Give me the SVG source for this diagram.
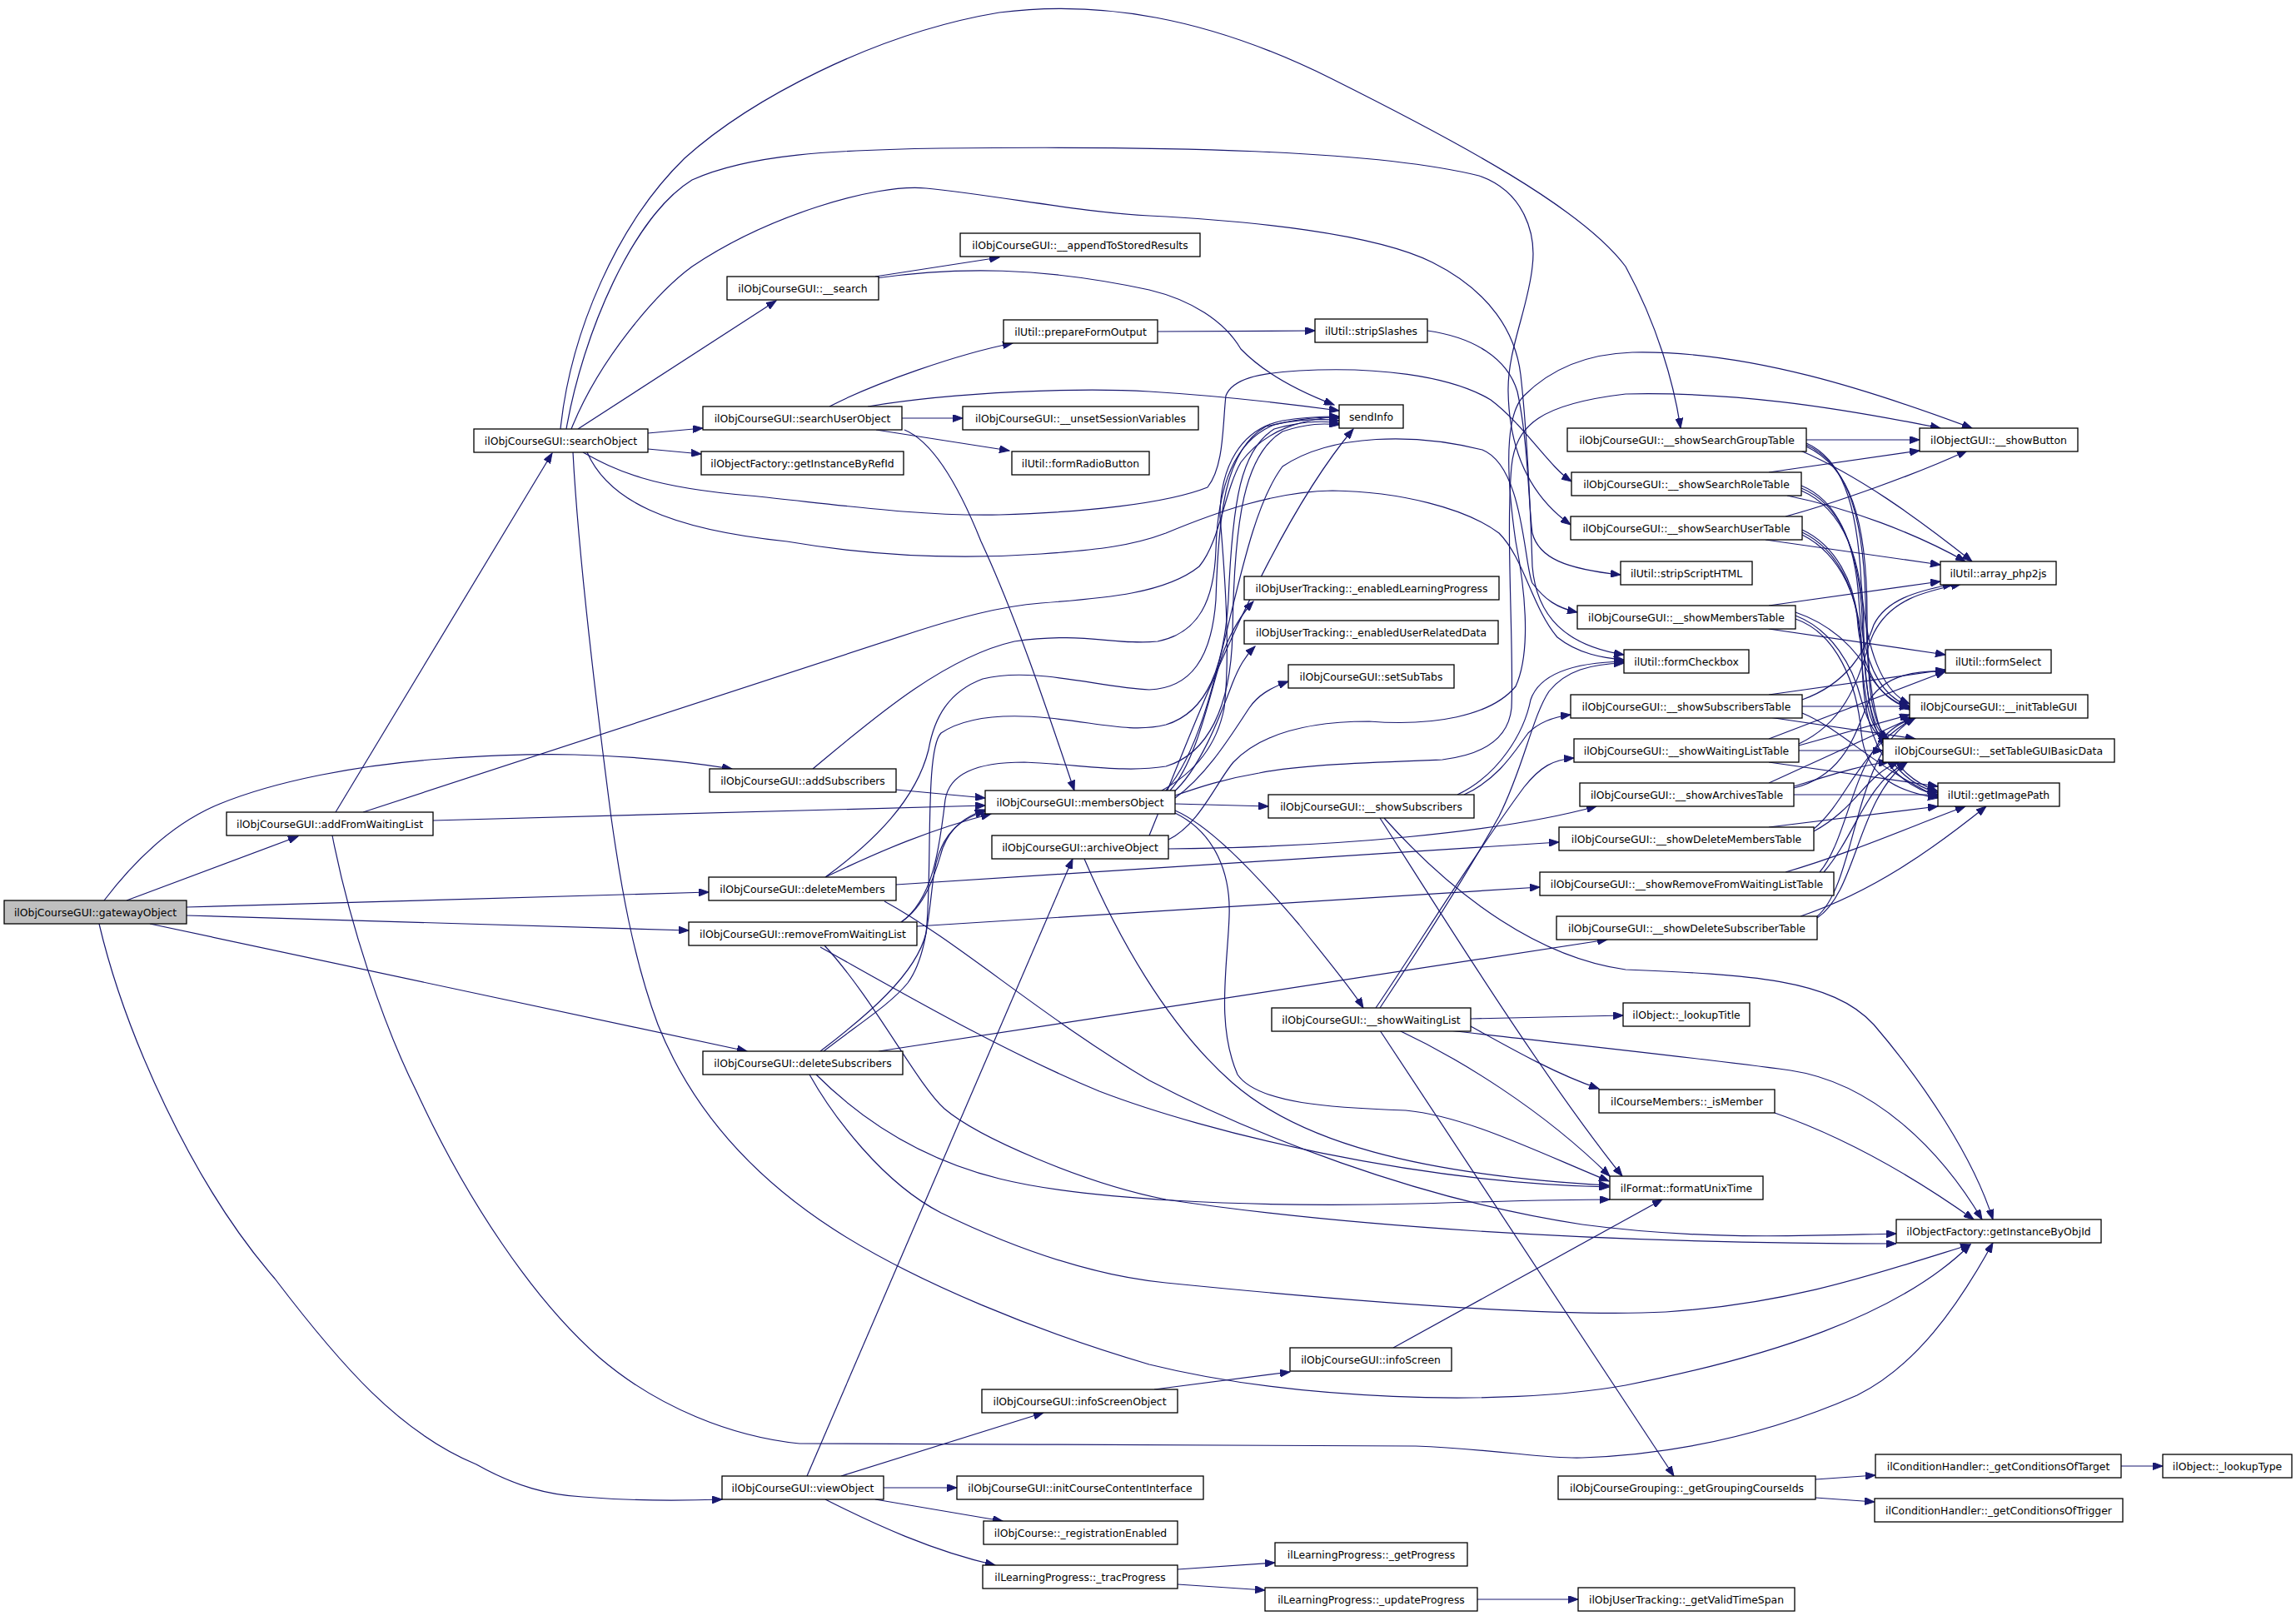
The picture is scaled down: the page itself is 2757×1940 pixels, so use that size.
<svg xmlns="http://www.w3.org/2000/svg" width="2757" height="1940" viewBox="0 0 2757 1940">
<defs>
<marker id="a" markerUnits="userSpaceOnUse" markerWidth="13" markerHeight="9" refX="12" refY="4.5" orient="auto"><path d="M0,0 L12,4.5 L0,9 z" fill="#191970" stroke="#191970" stroke-width="1"/></marker>
</defs>
<style>
.n rect{fill:#fff;stroke:#000;stroke-width:1.3}
.n text{font-family:"DejaVu Sans","Liberation Sans",sans-serif;font-size:12.4px;text-anchor:middle;fill:#000}
.e path{fill:none;stroke:#191970;stroke-width:1.2;marker-end:url(#a)}
</style>
<rect width="2757" height="1940" fill="#fff"/>
<g class="e" id="edges">
<path d="M152,1081 L358,1004"/>
<path d="M125,1081 C170,1022 215,985 264,965 C330,938 430,918 530,911 C600,906 650,905 690,906 C760,908 830,915 879,923"/>
<path d="M224,1089 L851,1071"/>
<path d="M224,1099 L827,1117"/>
<path d="M180,1109 L897,1262"/>
<path d="M119,1109 C150,1240 230,1420 330,1535 C410,1640 480,1720 572,1758 C620,1785 660,1795 700,1797 C760,1802 810,1802 867,1800"/>
<path d="M403,975 L663,544"/>
<path d="M520,985 L1183,967"/>
<path d="M436,975 L1100,758 C1150,742 1200,728 1250,724 C1330,718 1400,712 1440,680 C1465,650 1470,590 1490,555 C1520,515 1565,503 1608,500"/>
<path d="M399,1003 C420,1110 460,1230 500,1310 C560,1440 640,1560 720,1630 C790,1690 880,1725 960,1733 C1200,1735 1500,1733 1700,1736 C1800,1740 1860,1752 1900,1750 C2040,1745 2150,1710 2230,1675 C2300,1640 2350,1570 2393,1492"/>
<path d="M694,515 L932,361"/>
<path d="M778,520 L844,514"/>
<path d="M778,539 L842,545"/>
<path d="M673,515 C685,400 740,270 822,190 C900,120 1050,40 1200,15 C1320,0 1450,20 1600,95 C1750,170 1900,250 1952,320 C1990,390 2010,460 2018,514"/>
<path d="M680,515 C700,400 760,260 831,216 C900,185 1000,180 1130,178 C1400,175 1650,180 1776,211 C1830,230 1845,280 1840,320 C1835,370 1810,420 1811,470 C1812,530 1830,590 1886,630"/>
<path d="M686,515 C720,430 790,350 831,320 C920,260 1050,220 1112,226 C1200,235 1300,255 1380,259 C1500,265 1650,280 1720,315 C1790,350 1820,400 1826,450 C1835,530 1838,620 1840,680 C1845,740 1880,775 1950,786"/>
<path d="M700,543 C740,565 780,585 900,595 C1000,605 1100,620 1200,618 C1300,615 1400,605 1450,585 C1470,560 1468,510 1472,475 C1480,455 1510,448 1560,445 C1650,440 1740,450 1790,480 C1830,510 1860,560 1887,578"/>
<path d="M705,543 C730,600 800,635 945,650 C1050,668 1150,672 1250,665 C1320,660 1360,655 1400,640 C1460,615 1530,590 1600,589 C1680,590 1760,610 1800,640 C1830,670 1840,730 1870,765 C1895,785 1925,790 1950,792"/>
<path d="M688,543 C692,620 705,760 734,982 C745,1060 760,1150 790,1230 C830,1330 900,1410 1000,1475 C1100,1540 1250,1600 1380,1638 C1550,1680 1800,1690 1952,1663 C2120,1630 2280,1580 2366,1494"/>
<path d="M1051,332 L1200,309"/>
<path d="M1051,334 C1150,320 1250,320 1380,348 C1430,360 1470,385 1490,419 C1520,450 1560,470 1602,486"/>
<path d="M996,488 C1050,460 1150,425 1216,412"/>
<path d="M1083,502 L1156,502"/>
<path d="M1052,516 L1212,541"/>
<path d="M1042,488 C1150,470 1300,465 1380,470 C1460,475 1550,485 1608,493"/>
<path d="M1086,516 C1120,530 1150,580 1178,650 C1220,740 1260,860 1290,949"/>
<path d="M1390,398 L1579,397"/>
<path d="M1714,397 C1770,405 1810,430 1822,470 C1835,530 1835,600 1840,640 C1848,670 1880,683 1946,690"/>
<path d="M1395,949 C1430,930 1460,900 1470,850 C1478,780 1470,680 1465,620 C1465,560 1490,515 1540,505 C1570,500 1590,500 1608,500"/>
<path d="M976,923 C1040,870 1130,790 1218,770 C1300,758 1340,775 1390,770 C1440,760 1458,720 1460,660 C1462,590 1480,530 1530,510 C1560,502 1590,500 1608,502"/>
<path d="M991,1053 C1050,1010 1100,960 1115,900 C1122,860 1140,830 1180,815 C1240,800 1320,825 1380,828 C1430,826 1455,790 1460,720 C1463,620 1470,540 1520,512 C1560,502 1590,503 1608,505"/>
<path d="M985,1262 C1040,1220 1100,1170 1112,1120 C1120,1050 1110,900 1130,880 C1160,860 1210,857 1260,862 C1320,868 1360,880 1400,870 C1450,855 1470,800 1475,720 C1480,600 1490,540 1530,515 C1565,505 1590,505 1608,508"/>
<path d="M1082,1107 C1120,1080 1128,1020 1135,960 C1140,930 1170,915 1230,915 C1300,918 1350,928 1400,920 C1450,905 1478,850 1480,760 C1482,620 1495,545 1540,518 C1570,508 1590,508 1608,510"/>
<path d="M991,1053 C1060,1020 1120,995 1190,977"/>
<path d="M1082,1107 C1115,1085 1125,1040 1132,1018 C1142,992 1160,980 1183,972"/>
<path d="M989,1262 C1030,1230 1070,1205 1090,1180 C1112,1150 1115,1100 1120,1060 C1125,1010 1145,985 1183,974"/>
<path d="M1076,948 L1183,958"/>
<path d="M1405,949 C1440,910 1455,820 1470,780 C1480,755 1490,738 1505,722"/>
<path d="M1408,952 C1440,925 1465,860 1480,820 C1488,800 1495,788 1507,776"/>
<path d="M1411,958 C1450,930 1480,880 1500,850 C1510,835 1525,826 1547,818"/>
<path d="M1411,965 L1523,968"/>
<path d="M1411,973 C1450,990 1500,1040 1560,1110 C1600,1160 1625,1190 1637,1210"/>
<path d="M1411,976 C1460,1000 1478,1050 1476,1100 C1474,1160 1460,1230 1486,1290 C1510,1325 1600,1330 1688,1333 C1760,1340 1840,1380 1932,1418"/>
<path d="M1411,955 C1440,945 1470,935 1512,928 C1560,918 1650,915 1732,912 C1790,905 1812,880 1815,850 C1818,780 1808,640 1815,560 C1820,510 1850,485 1952,473 C2080,470 2200,488 2330,514"/>
<path d="M1400,949 C1470,870 1480,640 1540,560 C1600,520 1700,520 1780,540 C1830,560 1830,680 1840,700 C1855,720 1870,730 1894,735"/>
<path d="M1403,1008 C1440,990 1460,940 1481,915 C1510,885 1560,866 1644,866 C1720,872 1790,860 1820,824 C1840,780 1830,700 1820,650 C1810,580 1805,500 1830,475 C1860,445 1900,425 1960,423 C2100,420 2250,470 2368,514"/>
<path d="M1380,1003 C1430,880 1520,640 1625,515"/>
<path d="M1403,1019 C1600,1017 1800,1000 1917,968"/>
<path d="M1302,1031 C1340,1120 1400,1230 1480,1300 C1560,1370 1700,1410 1932,1423"/>
<path d="M1076,1062 L1872,1011"/>
<path d="M1101,1112 L1849,1065"/>
<path d="M1055,1262 L1930,1128"/>
<path d="M1062,1082 C1150,1130 1250,1220 1380,1297 C1500,1360 1700,1440 1900,1470 C2050,1490 2180,1483 2277,1481"/>
<path d="M985,1137 C1080,1190 1200,1260 1320,1310 C1450,1360 1700,1420 1932,1425"/>
<path d="M990,1135 C1050,1200 1100,1300 1134,1331 C1174,1365 1300,1420 1400,1440 C1600,1470 1900,1493 2277,1493"/>
<path d="M972,1290 C1000,1340 1060,1420 1130,1456 C1200,1490 1300,1530 1400,1540 C1600,1560 1864,1582 2000,1575 C2150,1565 2250,1530 2366,1494"/>
<path d="M980,1290 C1030,1340 1100,1390 1200,1415 C1300,1440 1500,1450 1700,1445 C1800,1442 1880,1440 1933,1440"/>
<path d="M1758,954 C1800,935 1820,900 1835,880 C1850,865 1870,860 1886,858"/>
<path d="M1750,954 C1800,930 1830,880 1838,840 C1850,805 1900,795 1950,794"/>
<path d="M1657,982 C1720,1080 1850,1290 1948,1412"/>
<path d="M1662,982 C1750,1080 1850,1150 1952,1164 C2100,1170 2200,1175 2250,1230 C2310,1300 2370,1390 2393,1464"/>
<path d="M1657,1210 C1690,1160 1750,1070 1800,980 C1830,920 1840,860 1860,830 C1880,805 1910,797 1950,796"/>
<path d="M1652,1210 C1700,1140 1760,1040 1830,945 C1850,920 1865,912 1890,910"/>
<path d="M1766,1223 L1949,1219"/>
<path d="M1657,1237 L2010,1772"/>
<path d="M1680,1237 C1750,1270 1850,1330 1933,1412"/>
<path d="M1740,1237 C1850,1250 2000,1265 2150,1285 C2250,1300 2330,1380 2380,1464"/>
<path d="M1766,1232 C1820,1262 1870,1290 1920,1307"/>
<path d="M2131,1336 C2200,1360 2280,1400 2370,1464"/>
<path d="M1673,1618 L1996,1440"/>
<path d="M969,1772 L1288,1031"/>
<path d="M1010,1772 L1253,1696"/>
<path d="M1061,1786 L1149,1786"/>
<path d="M1051,1800 L1204,1826"/>
<path d="M991,1800 C1050,1830 1120,1862 1195,1879"/>
<path d="M1386,1668 L1549,1647"/>
<path d="M1414,1884 L1531,1876"/>
<path d="M1414,1902 L1519,1909"/>
<path d="M1774,1920 L1895,1920"/>
<path d="M2180,1776 L2252,1771"/>
<path d="M2180,1798 L2251,1803"/>
<path d="M2547,1760 L2597,1760"/>
<path d="M2169,528 L2305,528"/>
<path d="M2162,541 C2230,570 2300,620 2368,674"/>
<path d="M2169,532 C2210,550 2230,600 2235,700 C2240,780 2260,830 2293,845"/>
<path d="M2169,534 C2215,555 2237,610 2240,720 C2243,820 2245,870 2268,887"/>
<path d="M2169,536 C2220,560 2242,620 2242,740 C2242,880 2270,930 2327,950"/>
<path d="M2124,567 L2305,541"/>
<path d="M2146,595 C2220,610 2300,640 2360,674"/>
<path d="M2163,583 C2205,600 2228,650 2232,720 C2236,790 2255,835 2293,848"/>
<path d="M2163,586 C2210,605 2232,660 2236,740 C2240,830 2245,875 2268,889"/>
<path d="M2163,589 C2212,610 2238,670 2238,760 C2238,880 2268,935 2327,952"/>
<path d="M2144,620 C2200,605 2300,570 2362,541"/>
<path d="M2120,648 L2330,678"/>
<path d="M2164,636 C2205,655 2226,700 2230,740 C2234,800 2255,840 2293,850"/>
<path d="M2164,639 C2208,660 2230,710 2234,770 C2238,840 2245,880 2268,891"/>
<path d="M2164,642 C2210,665 2236,720 2236,790 C2236,890 2268,940 2327,955"/>
<path d="M2124,727 L2330,698"/>
<path d="M2124,755 L2336,786"/>
<path d="M2156,735 C2200,750 2230,780 2245,810 C2260,835 2275,842 2293,852"/>
<path d="M2156,739 C2200,756 2225,800 2235,840 C2245,875 2255,885 2268,893"/>
<path d="M2156,743 C2205,760 2230,820 2235,880 C2240,930 2275,950 2327,958"/>
<path d="M2124,834 L2336,804"/>
<path d="M2164,840 C2220,820 2240,780 2250,750 C2265,720 2300,710 2345,701"/>
<path d="M2164,848 L2293,848"/>
<path d="M2124,861 L2300,887"/>
<path d="M2164,856 C2210,875 2250,920 2327,957"/>
<path d="M2160,893 C2230,860 2235,790 2250,760 C2270,720 2310,710 2355,701"/>
<path d="M2124,887 L2336,806"/>
<path d="M2160,895 L2293,858"/>
<path d="M2160,901 L2261,901"/>
<path d="M2124,915 L2327,944"/>
<path d="M2124,940 L2297,861"/>
<path d="M2154,946 C2220,930 2230,870 2245,840 C2265,810 2300,805 2336,806"/>
<path d="M2154,944 C2200,930 2240,917 2268,915"/>
<path d="M2154,954 L2327,954"/>
<path d="M2124,993 L2327,968"/>
<path d="M2178,995 C2220,960 2230,900 2300,861"/>
<path d="M2178,998 C2230,970 2240,930 2280,915"/>
<path d="M2144,1047 C2220,1025 2300,990 2360,968"/>
<path d="M2185,1047 C2225,1000 2225,880 2300,862"/>
<path d="M2190,1047 C2230,1000 2240,940 2290,915"/>
<path d="M2162,1100 C2250,1070 2320,1020 2385,968"/>
<path d="M2182,1100 C2230,1060 2225,900 2300,862"/>
<path d="M2182,1102 C2230,1070 2230,960 2290,915"/>
</g>
<g class="n" id="n_gw"><rect x="5" y="1081" width="219" height="28" style="fill:#bfbfbf"/><text x="114.5" y="1099.5">ilObjCourseGUI::gatewayObject</text></g>
<g class="n" id="n_afw"><rect x="272" y="975" width="248" height="28"/><text x="396" y="993.5">ilObjCourseGUI::addFromWaitingList</text></g>
<g class="n" id="n_so"><rect x="569" y="515" width="209" height="28"/><text x="673.5" y="533.5">ilObjCourseGUI::searchObject</text></g>
<g class="n" id="n_s"><rect x="873" y="332" width="182" height="28"/><text x="964" y="350.5">ilObjCourseGUI::__search</text></g>
<g class="n" id="n_app"><rect x="1153" y="280" width="288" height="28"/><text x="1297" y="298.5">ilObjCourseGUI::__appendToStoredResults</text></g>
<g class="n" id="n_pfo"><rect x="1205" y="384" width="185" height="28"/><text x="1297.5" y="402.5">ilUtil::prepareFormOutput</text></g>
<g class="n" id="n_suo"><rect x="844" y="488" width="239" height="28"/><text x="963.5" y="506.5">ilObjCourseGUI::searchUserObject</text></g>
<g class="n" id="n_uns"><rect x="1156" y="488" width="283" height="28"/><text x="1297.5" y="506.5">ilObjCourseGUI::__unsetSessionVariables</text></g>
<g class="n" id="n_girf"><rect x="842" y="542" width="243" height="28"/><text x="963.5" y="560.5">ilObjectFactory::getInstanceByRefId</text></g>
<g class="n" id="n_frb"><rect x="1215" y="542" width="165" height="28"/><text x="1297.5" y="560.5">ilUtil::formRadioButton</text></g>
<g class="n" id="n_ss"><rect x="1579" y="383" width="135" height="28"/><text x="1646.5" y="401.5">ilUtil::stripSlashes</text></g>
<g class="n" id="n_si"><rect x="1608" y="486" width="77" height="28"/><text x="1646.5" y="504.5">sendInfo</text></g>
<g class="n" id="n_ssgt"><rect x="1882" y="514" width="287" height="28"/><text x="2025.5" y="532.5">ilObjCourseGUI::__showSearchGroupTable</text></g>
<g class="n" id="n_ssrt"><rect x="1887" y="567" width="276" height="28"/><text x="2025" y="585.5">ilObjCourseGUI::__showSearchRoleTable</text></g>
<g class="n" id="n_ssut"><rect x="1886" y="620" width="278" height="28"/><text x="2025" y="638.5">ilObjCourseGUI::__showSearchUserTable</text></g>
<g class="n" id="n_sb"><rect x="2305" y="514" width="190" height="28"/><text x="2400" y="532.5">ilObjectGUI::__showButton</text></g>
<g class="n" id="n_ssh"><rect x="1946" y="674" width="158" height="28"/><text x="2025" y="692.5">ilUtil::stripScriptHTML</text></g>
<g class="n" id="n_ap"><rect x="2330" y="674" width="139" height="28"/><text x="2399.5" y="692.5">ilUtil::array_php2js</text></g>
<g class="n" id="n_elp"><rect x="1494" y="692" width="306" height="28"/><text x="1647" y="710.5">ilObjUserTracking::_enabledLearningProgress</text></g>
<g class="n" id="n_smt"><rect x="1894" y="727" width="262" height="28"/><text x="2025" y="745.5">ilObjCourseGUI::__showMembersTable</text></g>
<g class="n" id="n_eur"><rect x="1494" y="745" width="305" height="28"/><text x="1646.5" y="763.5">ilObjUserTracking::_enabledUserRelatedData</text></g>
<g class="n" id="n_fc"><rect x="1950" y="780" width="150" height="28"/><text x="2025" y="798.5">ilUtil::formCheckbox</text></g>
<g class="n" id="n_fs"><rect x="2336" y="780" width="127" height="28"/><text x="2399.5" y="798.5">ilUtil::formSelect</text></g>
<g class="n" id="n_sst"><rect x="1547" y="798" width="199" height="28"/><text x="1646.5" y="816.5">ilObjCourseGUI::setSubTabs</text></g>
<g class="n" id="n_sstb"><rect x="1886" y="834" width="278" height="28"/><text x="2025" y="852.5">ilObjCourseGUI::__showSubscribersTable</text></g>
<g class="n" id="n_itg"><rect x="2293" y="834" width="214" height="28"/><text x="2400" y="852.5">ilObjCourseGUI::__initTableGUI</text></g>
<g class="n" id="n_swlt"><rect x="1890" y="887" width="270" height="28"/><text x="2025" y="905.5">ilObjCourseGUI::__showWaitingListTable</text></g>
<g class="n" id="n_stg"><rect x="2261" y="887" width="278" height="28"/><text x="2400" y="905.5">ilObjCourseGUI::__setTableGUIBasicData</text></g>
<g class="n" id="n_as"><rect x="852" y="923" width="224" height="28"/><text x="964" y="941.5">ilObjCourseGUI::addSubscribers</text></g>
<g class="n" id="n_sat"><rect x="1897" y="940" width="257" height="28"/><text x="2025.5" y="958.5">ilObjCourseGUI::__showArchivesTable</text></g>
<g class="n" id="n_gip"><rect x="2327" y="940" width="146" height="28"/><text x="2400" y="958.5">ilUtil::getImagePath</text></g>
<g class="n" id="n_mo"><rect x="1183" y="949" width="228" height="28"/><text x="1297" y="967.5">ilObjCourseGUI::membersObject</text></g>
<g class="n" id="n_ssub"><rect x="1523" y="954" width="247" height="28"/><text x="1646.5" y="972.5">ilObjCourseGUI::__showSubscribers</text></g>
<g class="n" id="n_sdmt"><rect x="1872" y="993" width="306" height="28"/><text x="2025" y="1011.5">ilObjCourseGUI::__showDeleteMembersTable</text></g>
<g class="n" id="n_ao"><rect x="1191" y="1003" width="212" height="28"/><text x="1297" y="1021.5">ilObjCourseGUI::archiveObject</text></g>
<g class="n" id="n_srwt"><rect x="1849" y="1047" width="353" height="28"/><text x="2025.5" y="1065.5">ilObjCourseGUI::__showRemoveFromWaitingListTable</text></g>
<g class="n" id="n_dm"><rect x="851" y="1053" width="225" height="28"/><text x="963.5" y="1071.5">ilObjCourseGUI::deleteMembers</text></g>
<g class="n" id="n_sdst"><rect x="1869" y="1100" width="313" height="28"/><text x="2025.5" y="1118.5">ilObjCourseGUI::__showDeleteSubscriberTable</text></g>
<g class="n" id="n_rfw"><rect x="827" y="1107" width="274" height="28"/><text x="964" y="1125.5">ilObjCourseGUI::removeFromWaitingList</text></g>
<g class="n" id="n_lt"><rect x="1949" y="1204" width="152" height="28"/><text x="2025" y="1222.5">ilObject::_lookupTitle</text></g>
<g class="n" id="n_swl"><rect x="1527" y="1210" width="239" height="28"/><text x="1646.5" y="1228.5">ilObjCourseGUI::__showWaitingList</text></g>
<g class="n" id="n_ds"><rect x="844" y="1262" width="240" height="28"/><text x="964" y="1280.5">ilObjCourseGUI::deleteSubscribers</text></g>
<g class="n" id="n_ism"><rect x="1920" y="1308" width="211" height="28"/><text x="2025.5" y="1326.5">ilCourseMembers::_isMember</text></g>
<g class="n" id="n_fut"><rect x="1933" y="1412" width="184" height="28"/><text x="2025" y="1430.5">ilFormat::formatUnixTime</text></g>
<g class="n" id="n_gio"><rect x="2277" y="1464" width="246" height="28"/><text x="2400" y="1482.5">ilObjectFactory::getInstanceByObjId</text></g>
<g class="n" id="n_is"><rect x="1549" y="1618" width="194" height="28"/><text x="1646" y="1636.5">ilObjCourseGUI::infoScreen</text></g>
<g class="n" id="n_iso"><rect x="1179" y="1668" width="235" height="28"/><text x="1296.5" y="1686.5">ilObjCourseGUI::infoScreenObject</text></g>
<g class="n" id="n_gct"><rect x="2252" y="1746" width="295" height="28"/><text x="2399.5" y="1764.5">ilConditionHandler::_getConditionsOfTarget</text></g>
<g class="n" id="n_lty"><rect x="2597" y="1746" width="155" height="28"/><text x="2674.5" y="1764.5">ilObject::_lookupType</text></g>
<g class="n" id="n_vo"><rect x="867" y="1772" width="194" height="28"/><text x="964" y="1790.5">ilObjCourseGUI::viewObject</text></g>
<g class="n" id="n_icci"><rect x="1149" y="1772" width="296" height="28"/><text x="1297" y="1790.5">ilObjCourseGUI::initCourseContentInterface</text></g>
<g class="n" id="n_ggci"><rect x="1871" y="1772" width="309" height="28"/><text x="2025.5" y="1790.5">ilObjCourseGrouping::_getGroupingCourseIds</text></g>
<g class="n" id="n_gctr"><rect x="2251" y="1799" width="298" height="28"/><text x="2400" y="1817.5">ilConditionHandler::_getConditionsOfTrigger</text></g>
<g class="n" id="n_re"><rect x="1181" y="1826" width="233" height="28"/><text x="1297.5" y="1844.5">ilObjCourse::_registrationEnabled</text></g>
<g class="n" id="n_gp"><rect x="1531" y="1852" width="231" height="28"/><text x="1646.5" y="1870.5">ilLearningProgress::_getProgress</text></g>
<g class="n" id="n_tp"><rect x="1180" y="1879" width="234" height="28"/><text x="1297" y="1897.5">ilLearningProgress::_tracProgress</text></g>
<g class="n" id="n_up"><rect x="1519" y="1906" width="255" height="28"/><text x="1646.5" y="1924.5">ilLearningProgress::_updateProgress</text></g>
<g class="n" id="n_gvts"><rect x="1895" y="1906" width="260" height="28"/><text x="2025" y="1924.5">ilObjUserTracking::_getValidTimeSpan</text></g>
</svg>
